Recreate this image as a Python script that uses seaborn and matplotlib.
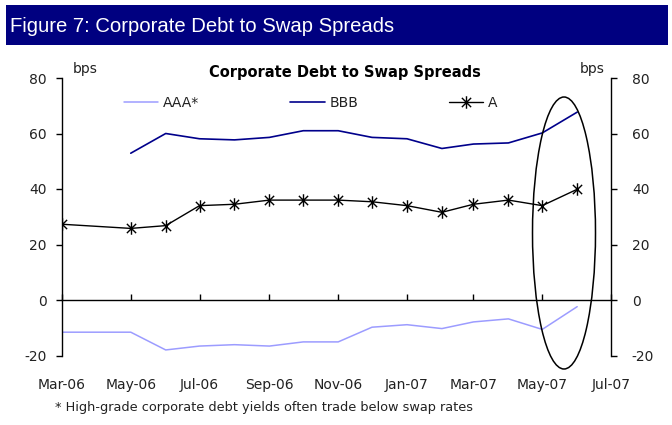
import numpy as np
import pandas as pd
import matplotlib
matplotlib.use("Agg")
import matplotlib.pyplot as plt
import matplotlib.dates as mdates
from matplotlib.patches import Rectangle, Ellipse
from matplotlib.path import Path
import seaborn as sns

# ---------------- data ----------------
months_a = ["2006-03", "2006-05", "2006-06", "2006-07", "2006-08", "2006-09", "2006-10",
            "2006-11", "2006-12", "2007-01", "2007-02", "2007-03", "2007-04", "2007-05", "2007-06"]
aaa_vals = [-11.6, -11.6, -18.0, -16.6, -16.1, -16.6, -15.1, -15.1, -9.8, -8.9, -10.3,
            -7.9, -6.8, -10.6, -2.4]
a_vals = [27.3, 25.8, 26.8, 34.0, 34.5, 36.0, 36.0, 36.0, 35.4, 34.0, 31.6, 34.5, 36.0,
          34.0, 39.9]
months_bbb = ["2006-05", "2006-06", "2006-07", "2006-08", "2006-09", "2006-10", "2006-11",
              "2006-12", "2007-01", "2007-02", "2007-03", "2007-04", "2007-05", "2007-06"]
bbb_vals = [52.9, 60.0, 58.1, 57.7, 58.6, 61.0, 61.0, 58.6, 58.1, 54.6, 56.2, 56.6, 60.2, 67.7]
xtick_months = ["2006-03", "2006-05", "2006-07", "2006-09", "2006-11", "2007-01",
                "2007-03", "2007-05", "2007-07"]
yticks = [-20, 0, 20, 40, 60, 80]

df_a = pd.DataFrame({"date": pd.to_datetime(months_a), "AAA*": aaa_vals, "A": a_vals})
df_b = pd.DataFrame({"date": pd.to_datetime(months_bbb), "BBB": bbb_vals})

# ---------------- style ----------------
sns.set_theme(style="white")
plt.rcParams["font.family"] = ["DejaVu Sans"]
plt.rcParams["axes.unicode_minus"] = False
TXT = "#222222"

fig = plt.figure(figsize=(6.72, 4.25), dpi=100)
ax = fig.add_axes([62 / 672, 1 - 355.5 / 425, 549 / 672, 277.5 / 425])

# star marker (x with vertical bar)
star = Path([(-1, -1), (1, 1), (-1, 1), (1, -1), (0, -1.35), (0, 1.35)],
            [Path.MOVETO, Path.LINETO, Path.MOVETO, Path.LINETO, Path.MOVETO, Path.LINETO])

sns.lineplot(data=df_a, x="date", y="AAA*", ax=ax, color="#9c9cff", lw=1.1, label="AAA*")
sns.lineplot(data=df_b, x="date", y="BBB", ax=ax, color="#00008b", lw=1.2, label="BBB")
sns.lineplot(data=df_a, x="date", y="A", ax=ax, color="black", lw=1.0, label="A",
             marker=star, markersize=9, markerfacecolor="none", markeredgecolor="black",
             markeredgewidth=1.0)

ax.set_ylim(-20, 80)
ax.set_xlim(pd.Timestamp("2006-03-01"), pd.Timestamp("2007-07-01"))
ax.set_yticks(yticks)
ax.set_xticks(pd.to_datetime(xtick_months))
ax.xaxis.set_major_formatter(mdates.DateFormatter("%b-%y"))
ax.set_xlabel("")
ax.set_ylabel("")

for s in ["top", "right"]:
    ax.spines[s].set_visible(False)
ax.spines["bottom"].set_position(("data", 0))
for s in ["left", "bottom"]:
    ax.spines[s].set_color("black")
    ax.spines[s].set_linewidth(1.0)

ax.tick_params(axis="y", direction="out", length=4, width=1, color="black",
               pad=7, labelsize=10, labelcolor=TXT, left=True)
ax.tick_params(axis="x", direction="in", length=4, width=1, color="black",
               pad=56, labelsize=10, labelcolor=TXT, bottom=True)

ax2 = ax.twinx()
ax2.set_ylim(-20, 80)
ax2.set_yticks(yticks)
for s in ["top", "left", "bottom"]:
    ax2.spines[s].set_visible(False)
ax2.spines["right"].set_color("black")
ax2.spines["right"].set_linewidth(1.0)
ax2.tick_params(axis="y", direction="out", length=4, width=1, color="black",
                pad=11, labelsize=10, labelcolor=TXT, right=True)
ax2.grid(False)
ax.grid(False)

leg = ax.legend(loc="center", bbox_to_anchor=(0.5 - 0.047, 1 - (103 - 78) / 277.5),
                ncol=3, frameon=False, fontsize=10, handlelength=2.5,
                handletextpad=0.35, columnspacing=6.5, borderaxespad=0)
for t in leg.get_texts():
    t.set_color(TXT)

# texts
fig.text(345 / 672, 1 - 73 / 425, "Corporate Debt to Swap Spreads", ha="center",
         va="center", fontsize=10.5, fontweight="bold", color="black")
fig.text(73 / 672, 1 - 69 / 425, "bps", ha="left", va="center", fontsize=10, color=TXT)
fig.text(605 / 672, 1 - 69 / 425, "bps", ha="right", va="center", fontsize=10, color=TXT)
fig.text(55 / 672, 1 - 408 / 425,
         "* High-grade corporate debt yields often trade below swap rates",
         ha="left", va="center", fontsize=9.3, color=TXT)

# banner
fig.patches.append(Rectangle((6 / 672, 1 - 45 / 425), 662 / 672, 40 / 425,
                             transform=fig.transFigure, facecolor="#000080",
                             edgecolor="none", zorder=0))
fig.text(10 / 672, 1 - 26 / 425, "Figure 7: Corporate Debt to Swap Spreads",
         ha="left", va="center", fontsize=14.6,
         family=["Liberation Sans", "DejaVu Sans"],
         color="white")

# highlight ellipse
fig.patches.append(Ellipse((564 / 672, 1 - 233 / 425), 63 / 672, 272 / 425,
                           transform=fig.transFigure, facecolor="none",
                           edgecolor="black", lw=1.1, zorder=5))

fig.savefig("out.png", dpi=100)
